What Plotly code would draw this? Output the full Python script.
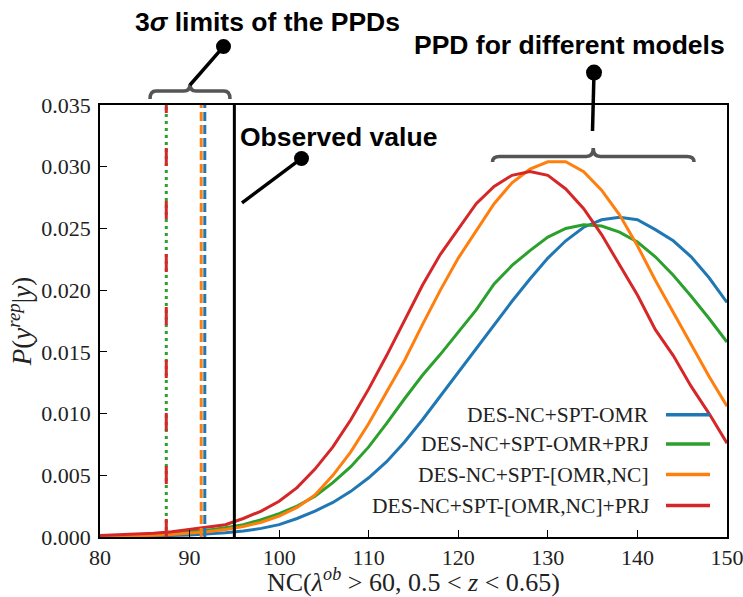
import plotly.graph_objects as go

# ---------------- data ----------------
nc = [80, 82, 84, 86, 88, 90, 92, 94, 96, 98, 100, 102, 104, 106, 108, 110, 112, 114,
      116, 118, 120, 122, 124, 126, 128, 130, 132, 134, 136, 138, 140, 142, 144, 146, 148, 150]

p_omr = [0.00003, 0.00004, 0.00006, 0.00008, 0.00012, 0.00017, 0.00024, 0.00034, 0.00048,
         0.0007, 0.0010, 0.0015, 0.0021, 0.0028, 0.0037, 0.0048, 0.0061, 0.0077, 0.0095,
         0.0114, 0.0134, 0.0153, 0.0172, 0.0191, 0.0209, 0.0226, 0.0240, 0.0251, 0.0257,
         0.0259, 0.0257, 0.0249, 0.0240, 0.0227, 0.0210, 0.0190]

p_omr_prj = [0.00007, 0.0001, 0.00014, 0.0002, 0.00029, 0.0004, 0.00055, 0.00075, 0.0010,
             0.0014, 0.0019, 0.0025, 0.0033, 0.0044, 0.0057, 0.0073, 0.0092, 0.0112, 0.0131,
             0.0148, 0.0166, 0.0184, 0.0205, 0.0220, 0.0232, 0.0243, 0.0250, 0.0253, 0.0252,
             0.0247, 0.0239, 0.0227, 0.0212, 0.0195, 0.0177, 0.0158]

p_omr_nc = [0.00005, 0.00007, 0.0001, 0.00014, 0.0002, 0.0003, 0.00042, 0.0006, 0.00085,
            0.0012, 0.0017, 0.0024, 0.0034, 0.0050, 0.0069, 0.0092, 0.0118, 0.0143, 0.0172,
            0.0200, 0.0226, 0.0248, 0.0270, 0.0287, 0.0298, 0.0304, 0.0304, 0.0296, 0.0281,
            0.0261, 0.0236, 0.0208, 0.0182, 0.0155, 0.0130, 0.0106]

p_omr_nc_prj = [0.00012, 0.00016, 0.00022, 0.0003, 0.00042, 0.0006, 0.00082, 0.0010, 0.0015,
                0.0021, 0.0029, 0.0040, 0.0055, 0.0073, 0.0095, 0.0120, 0.0147, 0.0175, 0.0204,
                0.0229, 0.0250, 0.0270, 0.0284, 0.0293, 0.0296, 0.0293, 0.0282, 0.0266, 0.0245,
                0.0220, 0.0196, 0.0168, 0.0147, 0.0122, 0.0100, 0.0076]

labels = ["DES-NC+SPT-OMR", "DES-NC+SPT-OMR+PRJ", "DES-NC+SPT-[OMR,NC]", "DES-NC+SPT-[OMR,NC]+PRJ"]
colors = ["#1f77b4", "#2ca02c", "#ff7f0e", "#d62728"]
series = [p_omr, p_omr_prj, p_omr_nc, p_omr_nc_prj]

# 3-sigma lower limits of the PPDs (same order as labels)
limits = [91.7, 87.4, 91.3, 87.4]
limit_dash = ["9px,4px", "3px,4px", "9px,4px", "18px,35px"]
observed = 95
y_max = 0.035

x_ticks = [80, 90, 100, 110, 120, 130, 140, 150]
y_ticks = [0.000, 0.005, 0.010, 0.015, 0.020, 0.025, 0.030, 0.035]

# ---------------- figure ----------------
W, H = 743, 597
L, R, T, B = 100, 16, 105, 59.5
pw, ph = W - L - R, H - T - B


def px(x):
    return (x - L) / pw


def py(y):
    return (H - B - y) / ph


fig = go.Figure()

for lab, col, s in zip(labels, colors, series):
    fig.add_trace(go.Scatter(x=nc, y=s, mode="lines", name=lab,
                             line=dict(color=col, width=3), showlegend=False))

# vertical limit lines: draw blue, orange, green, red so that orange/red are on top
for i in [0, 2, 1, 3]:
    fig.add_trace(go.Scatter(x=[limits[i], limits[i]], y=[0, y_max], mode="lines",
                             line=dict(color=colors[i], width=3, dash=limit_dash[i]),
                             showlegend=False))

fig.add_trace(go.Scatter(x=[observed, observed], y=[0, y_max], mode="lines",
                         line=dict(color="black", width=3), showlegend=False))

shapes = []
annotations = []

# custom legend (text then line sample on the right)
leg_rows = [415, 444.5, 475, 506]
for lab, col, ry in zip(labels, colors, leg_rows):
    annotations.append(dict(x=px(651), y=py(ry), xref="paper", yref="paper", text=lab,
                            showarrow=False, xanchor="right", yanchor="middle",
                            font=dict(family="Liberation Serif", size=21.5, color="#222")))
    shapes.append(dict(type="line", xref="paper", yref="paper", x0=px(666), x1=px(710),
                       y0=py(ry), y1=py(ry), line=dict(color=col, width=3.5)))


def brace(x1, x2, yb, yh, yt, r):
    xm = (x1 + x2) / 2
    pts = [
        f"M {px(x1)},{py(yb)}",
        f"Q {px(x1)},{py(yh)} {px(x1 + r)},{py(yh)}",
        f"L {px(xm - r)},{py(yh)}",
        f"Q {px(xm)},{py(yh)} {px(xm)},{py(yt)}",
        f"Q {px(xm)},{py(yh)} {px(xm + r)},{py(yh)}",
        f"L {px(x2 - r)},{py(yh)}",
        f"Q {px(x2)},{py(yh)} {px(x2)},{py(yb)}",
    ]
    return dict(type="path", xref="paper", yref="paper", path=" ".join(pts),
                line=dict(color="#555555", width=3.5))


shapes.append(brace(150, 230, 99, 91, 84, 6))
shapes.append(brace(492.5, 694, 162, 156.5, 148, 7))


def pointer(x0, y0, x1, y1, rad=7.5):
    shapes.append(dict(type="line", xref="paper", yref="paper", x0=px(x0), y0=py(y0),
                       x1=px(x1), y1=py(y1), line=dict(color="black", width=3.5)))
    shapes.append(dict(type="circle", xref="paper", yref="paper",
                       x0=px(x1 - rad), x1=px(x1 + rad), y0=py(y1 + rad), y1=py(y1 - rad),
                       fillcolor="black", line=dict(color="black", width=0)))


pointer(190, 85, 223.5, 46.5)
pointer(242, 203, 301.5, 158.5)
pointer(592.5, 131, 594, 72.5, 8)

bold = dict(family="Liberation Sans", size=26.5, color="black")
annotations.append(dict(x=px(267), y=py(22), xref="paper", yref="paper",
                        text="<b>3<i>σ</i> limits of the PPDs</b>", showarrow=False,
                        xanchor="center", yanchor="middle", font=bold))
annotations.append(dict(x=px(727), y=py(45), xref="paper", yref="paper",
                        text="<b>PPD for different models</b>", showarrow=False,
                        xanchor="right", yanchor="middle", font=bold))
annotations.append(dict(x=px(238), y=py(137), xref="paper", yref="paper",
                        text="<b>Observed value</b>", showarrow=False,
                        xanchor="left", yanchor="middle", font=bold))

fig.update_layout(
    width=W, height=H,
    margin=dict(l=L, r=R, t=T, b=B, pad=0),
    paper_bgcolor="white", plot_bgcolor="white",
    shapes=shapes, annotations=annotations,
    showlegend=False,
    font=dict(family="Liberation Serif", size=21, color="#222"),
    xaxis=dict(range=[80, 150], tickvals=x_ticks, ticktext=[str(v) for v in x_ticks],
               ticks="inside", ticklen=7, tickwidth=1.2, tickcolor="black",
               showline=True, linecolor="black", linewidth=1.5, mirror=True,
               showgrid=False, zeroline=False, automargin=False,
               ticklabeloverflow="allow",
               tickfont=dict(family="Liberation Serif", size=22, color="#222"),
               title=dict(text="NC(<i>λ</i><sup><i>ob</i></sup> > 60, 0.5 < <i>z</i> < 0.65)",
                          font=dict(family="Liberation Serif", size=26, color="#222"),
                          standoff=6)),
    yaxis=dict(range=[0, y_max], tickvals=y_ticks, ticktext=[f"{v:.3f}" for v in y_ticks],
               ticks="inside", ticklen=7, tickwidth=1.2, tickcolor="black",
               showline=True, linecolor="black", linewidth=1.5, mirror=True,
               showgrid=False, zeroline=False, automargin=False,
               ticklabelstandoff=3, ticklabeloverflow="allow",
               tickfont=dict(family="Liberation Serif", size=22, color="#222"),
               title=dict(text="<i>P</i>(<i>y</i><sup><i>rep</i></sup>|<i>y</i>)",
                          font=dict(family="Liberation Serif", size=27, color="#222"),
                          standoff=2)),
)

fig.write_html("out.html")
